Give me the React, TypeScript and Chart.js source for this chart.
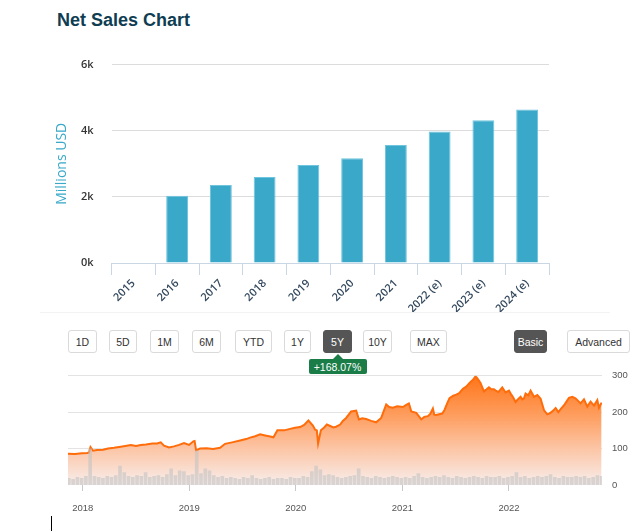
import React, { useEffect, useRef } from "react";
import { Chart, registerables } from "chart.js";
Chart.register(...registerables);

// ---------- Net sales (bar chart) ----------
const salesYears = ["2015", "2016", "2017", "2018", "2019", "2020", "2021", "2022 (e)", "2023 (e)", "2024 (e)"];
const salesValues: (number | null)[] = [null, 2030, 2360, 2600, 2960, 3170, 3570, 3980, 4320, 4640];
const salesTicks = [0, 2000, 4000, 6000];

// ---------- Controls ----------
const rangeButtons = ["1D", "5D", "1M", "6M", "YTD", "1Y", "5Y", "10Y", "MAX"];
const activeRange = "5Y";
const changeLabel = "+168.07%";
const viewButtons = ["Basic", "Advanced"];
const activeView = "Basic";

// ---------- Price (area chart) ----------
const priceDates = [
  2017.862, 2017.928, 2017.993, 2018.043, 2018.059, 2018.073, 2018.097, 2018.134, 2018.191, 2018.238,
  2018.294, 2018.357, 2018.413, 2018.451, 2018.5, 2018.545, 2018.594, 2018.654, 2018.698, 2018.732,
  2018.763, 2018.81, 2018.857, 2018.904, 2018.951, 2018.998, 2019.038, 2019.05, 2019.064, 2019.101,
  2019.164, 2019.223, 2019.289, 2019.336, 2019.402, 2019.477, 2019.533, 2019.571, 2019.618, 2019.665,
  2019.712, 2019.759, 2019.79, 2019.827, 2019.89, 2019.946, 2019.993, 2020.04, 2020.078, 2020.118,
  2020.134, 2020.16, 2020.181, 2020.197, 2020.209, 2020.235, 2020.266, 2020.291, 2020.322, 2020.353,
  2020.378, 2020.416, 2020.441, 2020.472, 2020.519, 2020.566, 2020.592, 2020.623, 2020.66, 2020.707,
  2020.754, 2020.801, 2020.848, 2020.876, 2020.911, 2020.951, 2021.005, 2021.036, 2021.061, 2021.083,
  2021.13, 2021.177, 2021.205, 2021.239, 2021.261, 2021.286, 2021.299, 2021.317, 2021.374, 2021.395,
  2021.421, 2021.442, 2021.477, 2021.505, 2021.533, 2021.568, 2021.599, 2021.63, 2021.665, 2021.686,
  2021.702, 2021.733, 2021.765, 2021.787, 2021.812, 2021.834, 2021.859, 2021.881, 2021.9, 2021.937,
  2021.968, 2022.0, 2022.022, 2022.04, 2022.062, 2022.087, 2022.109, 2022.125, 2022.141, 2022.156,
  2022.181, 2022.203, 2022.235, 2022.266, 2022.297, 2022.329, 2022.36, 2022.378, 2022.407, 2022.438,
  2022.463, 2022.491, 2022.517, 2022.538, 2022.563, 2022.594, 2022.624, 2022.642, 2022.672, 2022.704,
  2022.735, 2022.766, 2022.798, 2022.829, 2022.845, 2022.869,
];
const priceValues = [
  86, 85, 87, 88, 89, 104, 94, 96, 97, 100,
  102, 105, 108, 110, 107, 110, 111, 114, 114, 117,
  108, 103, 106, 110, 115, 110, 120, 121, 95, 100,
  101, 99, 102, 113, 117, 122, 126, 130, 134, 139,
  136, 133, 131, 150, 150, 154, 157, 159, 165, 177,
  172, 163, 152, 150, 114, 150, 158, 166, 162, 158,
  160, 166, 176, 184, 202, 204, 180, 183, 181, 176,
  172, 184, 221, 214, 212, 216, 214, 220, 224, 202,
  198, 180, 187, 189, 195, 210, 193, 192, 196, 206,
  225, 238, 245, 248, 252, 264, 270, 280, 290, 298,
  293, 280, 257, 262, 268, 263, 263, 258, 255, 268,
  254, 259, 248, 240, 228, 236, 242, 235, 238, 251,
  246, 259, 242, 247, 237, 205, 194, 196, 202, 211,
  200, 210, 219, 228, 239, 242, 238, 233, 224, 235,
  215, 229, 218, 233, 212, 226,
];
const priceTicks = [0, 100, 200, 300];
const yearTicks = [2018, 2019, 2020, 2021, 2022];
const priceMin = 2017.862;
const priceMax = 2022.873;

// volume, millions of shares, one bar every ~2 weeks
const volumeStart = 2017.87;
const volumeStep = 0.04;
const volumeValues = [
  0.7, 0.6, 0.8, 0.7, 0.9, 3.8, 0.9, 0.8, 0.7, 0.9,
  0.8, 1.0, 2.0, 1.3, 0.9, 0.8, 1.0, 0.9, 1.3, 0.8,
  0.9, 1.0, 0.8, 1.1, 1.7, 1.0, 1.5, 1.4, 1.0, 1.1,
  3.6, 1.2, 1.7, 1.5, 1.0, 0.8, 0.9, 0.7, 0.8, 0.7,
  0.6, 0.8, 0.7, 1.0, 0.7, 0.6, 0.7, 0.8, 0.6, 0.7,
  0.7, 0.6, 0.8, 0.7, 0.7, 0.9, 0.8, 1.4, 2.0, 1.6,
  1.0, 1.1, 1.0, 0.8, 0.7, 0.8, 0.9, 1.0, 1.7, 0.9,
  0.8, 0.7, 0.9, 0.8, 0.7, 0.8, 0.9, 0.8, 0.7, 0.8,
  0.7, 0.9, 1.2, 0.8, 0.7, 0.8, 0.9, 0.8, 1.0, 0.8,
  0.7, 0.9, 0.8, 0.7, 0.8, 0.9, 0.8, 0.7, 0.9, 0.8,
  0.8, 0.9, 0.7, 0.8, 0.9, 1.3, 0.8, 0.9, 0.7, 0.8,
  0.9, 0.8, 0.9, 1.1, 0.8, 0.7, 0.9, 0.8, 0.8, 0.9,
  0.8, 0.9, 0.7, 0.8, 1.0, 0.9,
];

// ---------- layout (pixels) ----------
const rangeLeft = [68, 109, 150, 192, 235, 284, 323, 363, 410];
const rangeWidth = [29, 28, 29, 29, 37, 27, 29, 29, 37];
const viewLeft = [514, 567];
const viewWidth = [33, 63];

function SalesChart() {
  const ref = useRef<HTMLCanvasElement>(null);
  useEffect(() => {
    const tickFont = { family: "'Open Sans', sans-serif", size: 11, weight: 600 as any };
    const chart = new Chart(ref.current!, {
      type: "bar",
      data: {
        labels: salesYears,
        datasets: [
          {
            data: salesValues,
            backgroundColor: "#3aa8c8",
            borderColor: "#6fc4de",
            borderWidth: 1,
            barPercentage: 0.5,
            categoryPercentage: 1,
          },
        ],
      },
      options: {
        animation: false,
        responsive: false,
        maintainAspectRatio: false,
        layout: { padding: { left: 50, top: 22, right: 91, bottom: 0 } },
        plugins: { legend: { display: false }, tooltip: { enabled: false } },
        scales: {
          x: {
            grid: { offset: true, drawOnChartArea: false, drawTicks: true, tickLength: 12, color: "#c9d6e3" },
            border: { color: "#c9d6e3" },
            ticks: { minRotation: 45, maxRotation: 45, padding: 2, autoSkip: false, font: tickFont, color: "#34495e" },
            afterFit: (s: any) => {
              s.height = 57;
            },
          },
          y: {
            min: 0,
            max: 6000,
            afterBuildTicks: (s: any) => {
              s.ticks = salesTicks.map((v) => ({ value: v }));
            },
            ticks: {
              callback: (v: any) => Number(v) / 1000 + "k",
              padding: 18,
              font: tickFont,
              color: "#333",
            },
            grid: { drawTicks: false, color: "#dcdcdc" },
            border: { display: false },
            title: {
              display: true,
              text: "Millions USD",
              color: "#3aa8c8",
              font: { family: "'Open Sans', sans-serif", size: 14 },
              padding: { top: 4, bottom: 0 },
            },
            afterFit: (s: any) => {
              s.width = 61.5;
            },
          },
        },
      },
    });
    return () => chart.destroy();
  }, []);
  return <canvas ref={ref} width={640} height={280} style={{ position: "absolute", left: 0, top: 40 }} />;
}

function PriceChart() {
  const ref = useRef<HTMLCanvasElement>(null);
  useEffect(() => {
    const axisFont = { family: "'Liberation Sans', Arial, sans-serif", size: 9.5 };
    const volumeData = volumeValues.map((v, i) => ({ x: volumeStart + i * volumeStep, y: v }));
    const chart = new Chart(ref.current!, {
      type: "line",
      data: {
        datasets: [
          {
            type: "line",
            data: priceDates.map((d, i) => ({ x: d, y: priceValues[i] })),
            borderColor: "#ff6c0a",
            borderWidth: 2,
            pointRadius: 0,
            tension: 0,
            fill: "origin",
            yAxisID: "y",
            order: 2,
            backgroundColor: (ctx: any) => {
              const area = ctx.chart.chartArea;
              if (!area) return "#fcb080";
              const g = ctx.chart.ctx.createLinearGradient(0, area.top, 0, area.bottom);
              g.addColorStop(0, "#ff7518");
              g.addColorStop(0.35, "#fe9c5c");
              g.addColorStop(0.65, "#fcc3a2");
              g.addColorStop(1, "#f8eeec");
              return g;
            },
          } as any,
          {
            type: "bar",
            data: volumeData,
            backgroundColor: "rgba(195,195,195,0.6)",
            barThickness: 3,
            yAxisID: "yv",
            order: 1,
          } as any,
        ],
      },
      options: {
        animation: false,
        responsive: false,
        maintainAspectRatio: false,
        layout: { padding: { left: 68, top: 10, right: 0, bottom: 0 } },
        plugins: { legend: { display: false }, tooltip: { enabled: false } },
        scales: {
          x: {
            type: "linear",
            min: priceMin,
            max: priceMax,
            offset: false,
            afterBuildTicks: (s: any) => {
              s.ticks = yearTicks.map((v) => ({ value: v }));
            },
            ticks: {
              autoSkip: false,
              maxRotation: 0,
              callback: (v: any) => String(v),
              color: "#555",
              font: axisFont,
              padding: 12,
            },
            grid: { drawOnChartArea: false, tickLength: 6, color: "#c8c8c8", offset: false },
            border: { display: false },
            afterFit: (s: any) => {
              s.height = 47;
            },
          },
          y: {
            position: "right",
            min: 0,
            max: 300,
            afterBuildTicks: (s: any) => {
              s.ticks = priceTicks.map((v) => ({ value: v }));
            },
            ticks: { padding: 10, color: "#555", font: axisFont },
            grid: {
              drawTicks: false,
              color: (c: any) => (c.tick && c.tick.value === 0 ? "rgba(0,0,0,0)" : "#e3e3e3"),
            },
            border: { display: false },
            afterFit: (s: any) => {
              s.width = 38;
            },
          },
          yv: { display: false, min: 0, max: 11.5 },
        },
      } as any,
    });
    return () => chart.destroy();
  }, []);
  return <canvas ref={ref} width={640} height={172} style={{ position: "absolute", left: 0, top: 360 }} />;
}

const btnBase: React.CSSProperties = {
  position: "absolute",
  top: 330,
  height: 23,
  boxSizing: "border-box",
  border: "1px solid #dadada",
  borderRadius: 3,
  display: "flex",
  alignItems: "center",
  justifyContent: "center",
  fontFamily: "'Liberation Sans', Arial, sans-serif",
  fontSize: 10.5,
  color: "#333",
  background: "#fff",
};

export default function App() {
  const activeIdx = rangeButtons.indexOf(activeRange);
  const tipCenter = rangeLeft[activeIdx] + rangeWidth[activeIdx] / 2;
  return (
    <div style={{ position: "absolute", left: 0, top: 0, width: 640, height: 532, background: "#fff", overflow: "hidden" }}>
      <div
        style={{
          position: "absolute",
          left: 57,
          top: 10.5,
          fontFamily: "'Liberation Sans', Arial, sans-serif",
          fontWeight: 700,
          fontSize: 18,
          lineHeight: "18px",
          color: "#0f3d52",
          whiteSpace: "nowrap",
        }}
      >
        Net Sales Chart
      </div>
      <SalesChart />
      <div style={{ position: "absolute", left: 40, top: 312, width: 570, height: 1, background: "#f3f3f3" }} />
      {rangeButtons.map((b, i) => {
        const active = b === activeRange;
        return (
          <div
            key={b}
            style={{
              ...btnBase,
              left: rangeLeft[i],
              width: rangeWidth[i],
              background: active ? "#555" : "#fff",
              color: active ? "#fff" : "#333",
              border: active ? "1px solid #555" : btnBase.border,
            }}
          >
            {b}
          </div>
        );
      })}
      {viewButtons.map((b, i) => {
        const active = b === activeView;
        return (
          <div
            key={b}
            style={{
              ...btnBase,
              left: viewLeft[i],
              width: viewWidth[i],
              background: active ? "#555" : "#fff",
              color: active ? "#fff" : "#333",
              border: active ? "1px solid #555" : btnBase.border,
            }}
          >
            {b}
          </div>
        );
      })}
      <PriceChart />
      <div
        style={{
          position: "absolute",
          left: tipCenter - 5,
          top: 354,
          width: 0,
          height: 0,
          borderLeft: "5px solid transparent",
          borderRight: "5px solid transparent",
          borderBottom: "5px solid #1a7d47",
          zIndex: 2,
        }}
      />
      <div
        style={{
          position: "absolute",
          left: tipCenter - 29,
          top: 359,
          width: 58,
          height: 15,
          background: "#1a7d47",
          borderRadius: 2,
          color: "#fff",
          fontFamily: "'Liberation Sans', Arial, sans-serif",
          fontSize: 10.5,
          display: "flex",
          alignItems: "center",
          justifyContent: "center",
          zIndex: 2,
        }}
      >
        {changeLabel}
      </div>
      <div style={{ position: "absolute", left: 51, top: 516, width: 1, height: 15, background: "#000" }} />
    </div>
  );
}
